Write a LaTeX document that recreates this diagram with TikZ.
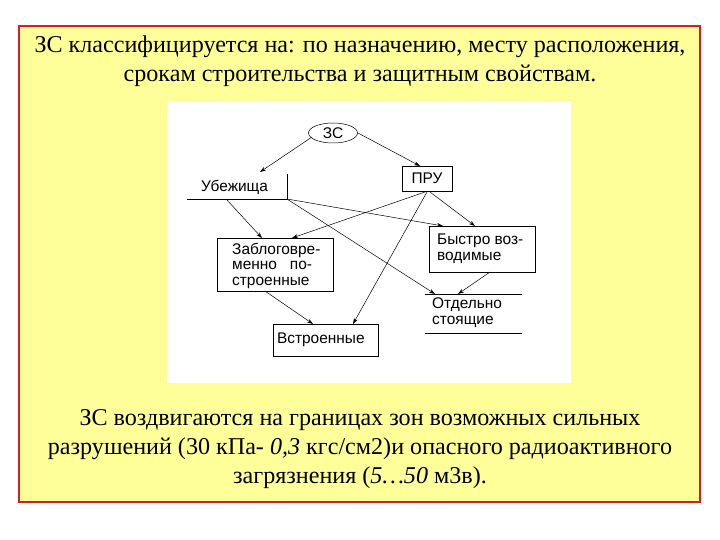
\documentclass[tikz,border=0pt]{standalone}
\usepackage{fontspec}
\setmainfont{Liberation Serif}
\newfontfamily\dsans{Liberation Sans}
\usetikzlibrary{shapes.geometric,arrows.meta,calc}
\definecolor{bgy}{HTML}{FFFF99}
\definecolor{frm}{HTML}{D42020}
\tikzset{
  conn/.style={-{Stealth[length=6bp,width=4bp]}, line width=0.5bp},
  dbox/.style={draw, line width=0.8bp, inner sep=0pt},
  dtxt/.style={font=\dsans\fontsize{15.5}{15.5}\selectfont, align=left, inner sep=0pt},
  big/.style={font=\fontsize{24.2}{29}\selectfont, align=center}
}
\begin{document}
\begin{tikzpicture}[x=1bp,y=-1bp]
\useasboundingbox (0,0) rectangle (720,540);
\fill[white] (0,0) rectangle (720,540);
\draw[frm, fill=bgy, line width=2.2bp] (19,26) rectangle (700,502);
\fill[white] (167,101) rectangle (571,383);
\node[big] (t1) at (360,61) {ЗС классифицируется на: по назначению, месту расположения,\\ срокам строительства и защитным свойствам.};
\node[big] (t2) at (360,449) {ЗС воздвигаются на границах зон возможных сильных\\ разрушений (30 кПа- \textit{0,3} кгс/см2)и опасного радиоактивного\\ загрязнения (\textit{5…50} м3в).};
% nodes
\node[draw, ellipse, line width=0.5bp, minimum width=49bp, minimum height=20bp, dtxt] (zs) at (333,133) {ЗС};
\node[dbox, minimum width=50bp, minimum height=25bp, dtxt] (pru) at (427,178.5) {ПРУ};
\node[dtxt, anchor=west] (ub) at (201,187) {Убежища};
\coordinate (ubr) at (287,199);
\coordinate (ubl) at (187,199);
\draw[line width=0.6bp] (ubl) -- (ubr) -- (287,174);
\node[dbox, minimum width=116bp, minimum height=53bp] (zab) at (275,264.5) {};
\node[dtxt, anchor=north west] (zabt) at (232,243) {Заблоговре-\\менно\ \ \ по-\\строенные};
\node[dbox, minimum width=106bp, minimum height=46bp] (bys) at (482,249) {};
\node[dtxt, anchor=north west] (byst) at (437,234) {Быстро воз-\\водимые};
\coordinate (otl) at (425,294);
\coordinate (otr) at (522,294);
\draw[line width=0.6bp] (otl) -- (otr);
\draw[line width=0.6bp] (425,333) -- (522,333);
\node[dtxt, anchor=north west] (ott) at (432,298) {Отдельно\\стоящие};
\node[dbox, minimum width=105bp, minimum height=32bp, dtxt, text width=97bp] (vst) at (325.5,340) {Встроенные};
% connectors
\draw[conn] (312,137) -- (260,172);
\draw[conn] (358,133) -- (420,166);
\draw[conn] (ubr) -- (443,226);
\draw[conn] (ubr) -- (435,294);
\draw[conn] (227,200) -- (262,238);
\draw[conn] (425,192) -- (292,238);
\draw[conn] (427,192) -- (353,324);
\draw[conn] (430,192) -- (475,226);
\draw[conn] (265,291) -- (313,324);
\draw[conn] (490,272) -- (458,294);
\end{tikzpicture}
\end{document}
